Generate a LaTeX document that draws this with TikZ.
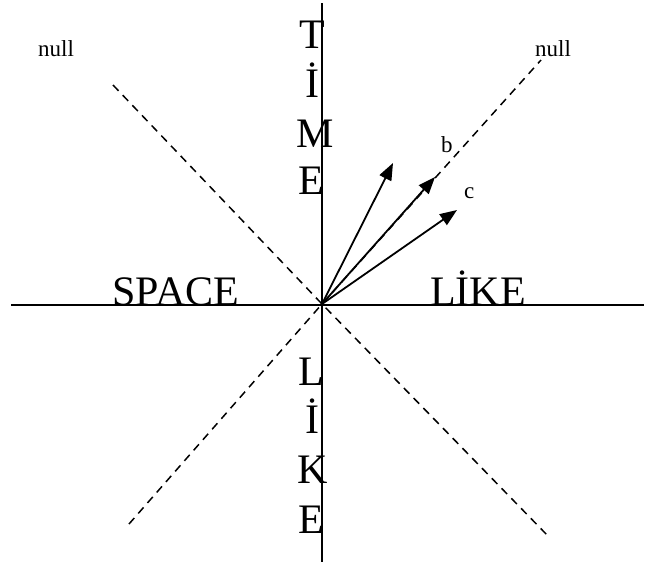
\documentclass[tikz,border=0pt]{standalone}
\usepackage{fontspec}
\setmainfont{Liberation Serif}
\usetikzlibrary{arrows.meta}
\begin{document}
\begin{tikzpicture}[x=1pt,y=-1pt,
  axis/.style={line width=2pt},
  nullline/.style={line width=1.5pt,dash pattern=on 8pt off 6pt},
  vec/.style={line width=1.8pt,-{Triangle[length=17pt,width=13pt]}},
  bigletter/.style={font=\fontsize{42}{42}\selectfont,inner sep=0pt,anchor=base},
  smalllabel/.style={font=\fontsize{23}{23}\selectfont,inner sep=0pt,anchor=base west}]
\useasboundingbox (0,0) rectangle (654,566);
% letters
\node[bigletter] (t1) at (312,48) {T};
\node[bigletter] (t2) at (312,97) {İ};
\node[bigletter] (t3) at (315,147) {M};
\node[bigletter] (t4) at (311,194) {E};
\node[bigletter] (l1) at (311,385) {L};
\node[bigletter] (l2) at (312,433) {İ};
\node[bigletter] (l3) at (313,483) {K};
\node[bigletter] (l4) at (311,533) {E};
\node[bigletter,anchor=base west] (space) at (112,305) {SPACE};
\node[bigletter,anchor=base west] (like) at (430,305) {LİKE};
\node[smalllabel] (nullL) at (38,56) {null};
\node[smalllabel] (nullR) at (535,56) {null};
\node[smalllabel] (lb) at (441,152) {b};
\node[smalllabel] (lc) at (464,198) {c};
% coordinates
\coordinate (O) at (322,304);
\coordinate (vtop) at (322,3);
\coordinate (vbot) at (322,562);
\coordinate (hl) at (11,305);
\coordinate (hr) at (644,305);
\coordinate (dtl) at (113,85);
\coordinate (dtr) at (541,60);
\coordinate (dbl) at (129,524);
\coordinate (dbr) at (550,538);
\coordinate (a1) at (393,163);
\coordinate (a2) at (435,177);
\coordinate (a3) at (457,210);
% axes
\draw[axis] (vtop) -- (vbot);
\draw[axis] (hl) -- (hr);
% null lines
\draw[nullline] (dtl) -- (O) -- (dbr);
\draw[nullline] (dbl) -- (O) -- (dtr);
% vectors
\draw[vec] (O) -- (a1);
\draw[vec] (O) -- (a2);
\draw[vec] (O) -- (a3);
\end{tikzpicture}
\end{document}
